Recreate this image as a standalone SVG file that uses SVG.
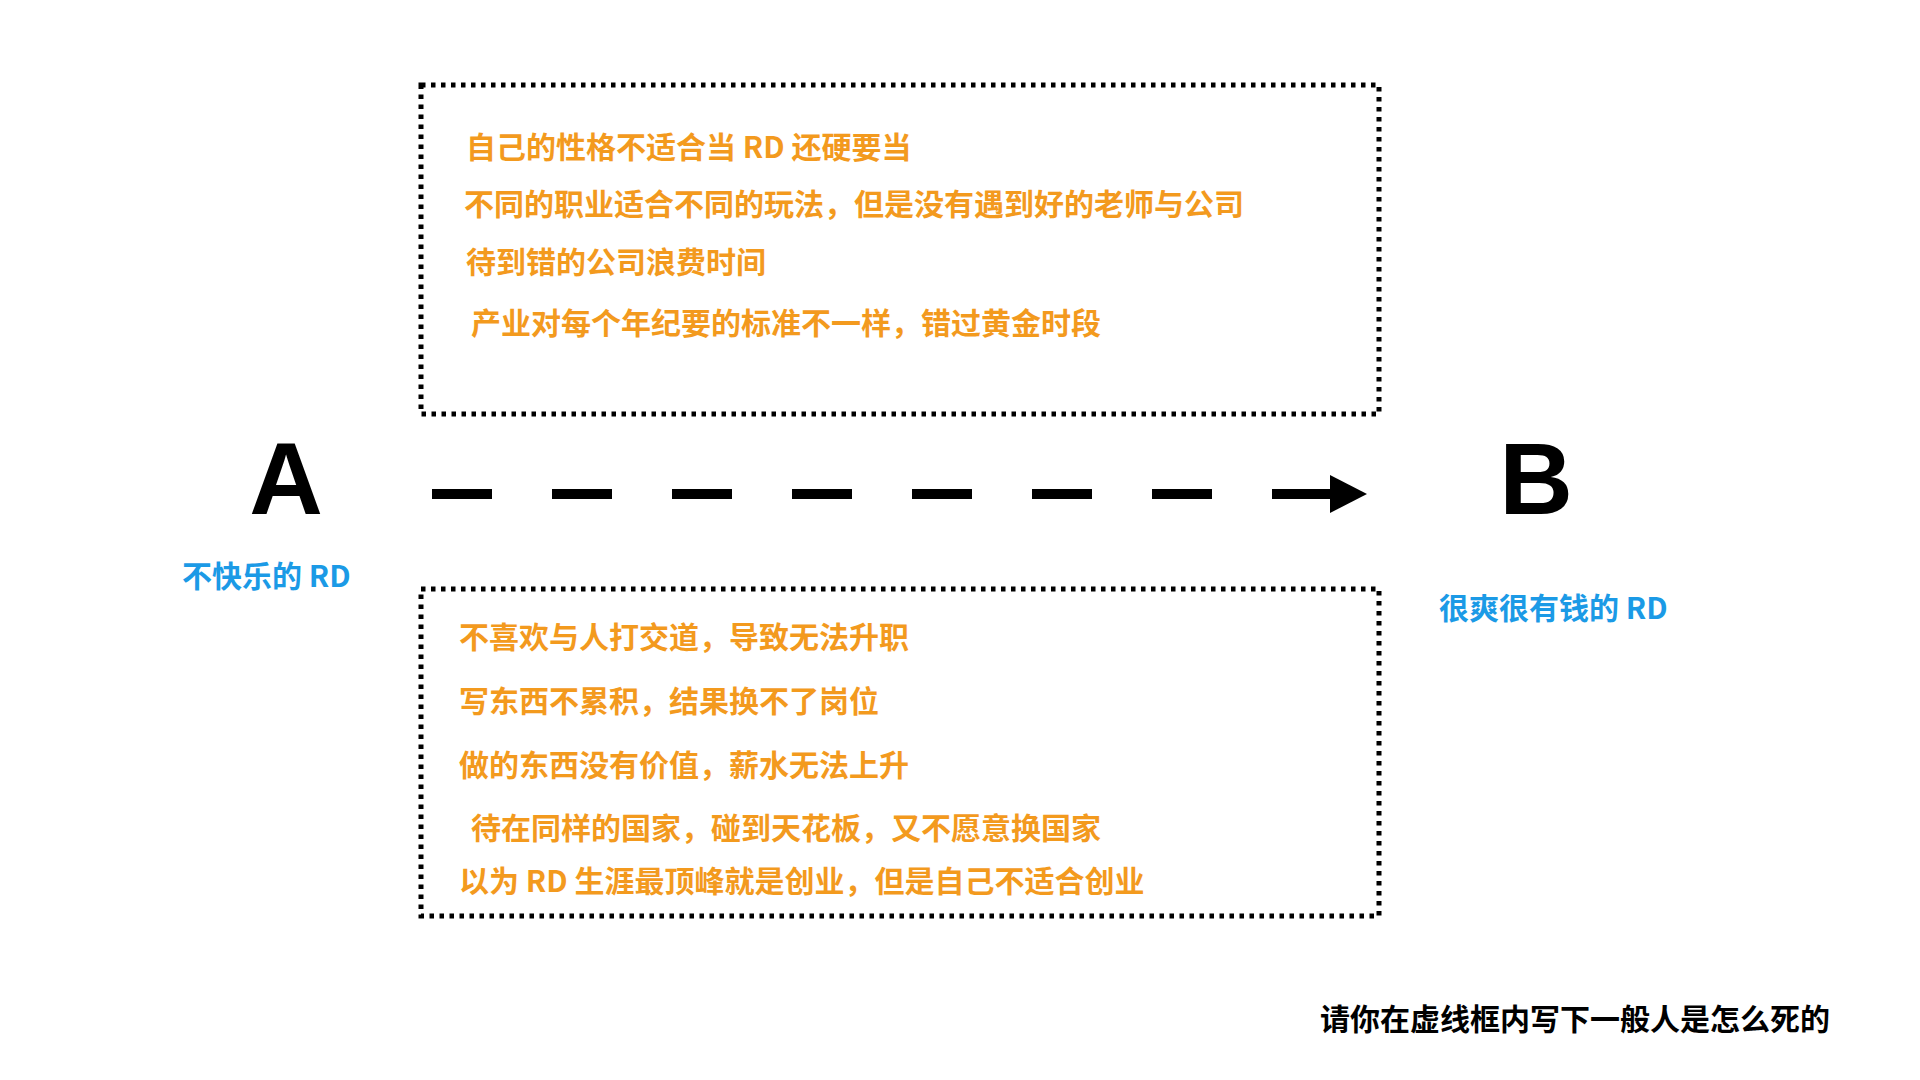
<svg xmlns="http://www.w3.org/2000/svg" width="1920" height="1080" viewBox="0 0 1920 1080">
  <style>
    .box { fill: none; stroke: #000; stroke-width: 5; stroke-dasharray: 4.5 5.5; }
    .item { font-family: "Noto Sans CJK SC", "Noto Sans", sans-serif; font-size: 30px; font-weight: 700; fill: #F39A1E; }
    .label { font-family: "Noto Sans CJK SC", "Noto Sans", sans-serif; font-size: 30px; font-weight: 700; fill: #1B9AE6; }
    .big { font-family: "Liberation Sans", Arial, sans-serif; font-size: 102px; font-weight: 700; fill: #000; text-anchor: middle; }
    .note { font-family: "Noto Sans CJK SC", "Noto Sans", sans-serif; font-size: 30px; font-weight: 700; fill: #000; }
    .conn { fill: none; stroke: #000; stroke-width: 10; stroke-dasharray: 60 60; }
  </style>
  <defs>
    <marker id="head" markerUnits="userSpaceOnUse" markerWidth="40" markerHeight="40" refX="2" refY="19" orient="auto">
      <path d="M0,0 L37,19 L0,38 Z" fill="#000"/>
    </marker>
  </defs>
  <rect width="1920" height="1080" fill="#fff"/>

  <g id="box-top">
    <rect class="box" x="421" y="85" width="958" height="329"/>
    <text class="item" x="466" y="158">自己的性格不适合当 RD 还硬要当</text>
    <text class="item" x="464" y="215">不同的职业适合不同的玩法，但是没有遇到好的老师与公司</text>
    <text class="item" x="466" y="273">待到错的公司浪费时间</text>
    <text class="item" x="471" y="334">产业对每个年纪要的标准不一样，错过黄金时段</text>
  </g>

  <g id="box-bottom">
    <rect class="box" x="421" y="589" width="958" height="327"/>
    <text class="item" x="459" y="648">不喜欢与人打交道，导致无法升职</text>
    <text class="item" x="459" y="712">写东西不累积，结果换不了岗位</text>
    <text class="item" x="459" y="776">做的东西没有价值，薪水无法上升</text>
    <text class="item" x="471" y="839">待在同样的国家，碰到天花板，又不愿意换国家</text>
    <text class="item" x="459" y="892">以为 RD 生涯最顶峰就是创业，但是自己不适合创业</text>
  </g>

  <g id="node-a">
    <text class="big" x="286" y="514">A</text>
    <text class="label" x="182" y="587">不快乐的 RD</text>
  </g>

  <g id="node-b">
    <text class="big" x="1536" y="514">B</text>
    <text class="label" x="1439" y="619">很爽很有钱的 RD</text>
  </g>

  <g id="connectors">
    <path class="conn" d="M432,494 L1332,494" marker-end="url(#head)"/>
  </g>

  <g id="note">
    <text class="note" x="1320" y="1030">请你在虚线框内写下一般人是怎么死的</text>
  </g>
</svg>
